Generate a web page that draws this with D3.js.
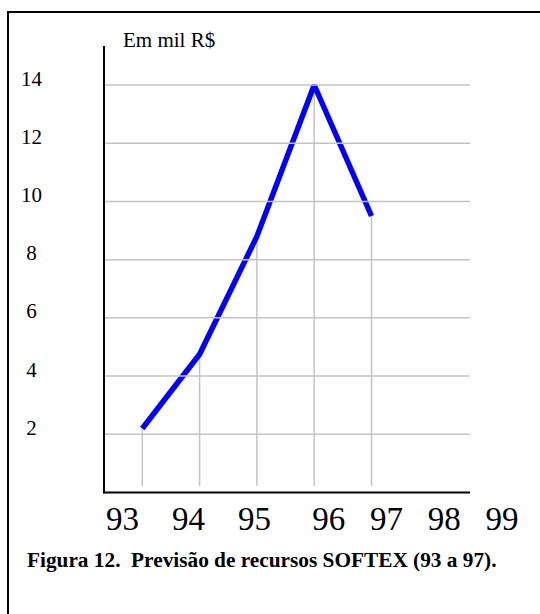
<!DOCTYPE html>
<html>
<head>
<meta charset="utf-8">
<script src="https://cdn.jsdelivr.net/npm/d3@7"></script>
<style>
  html, body { margin: 0; padding: 0; background: #fff; }
  svg { display: block; }
  svg text { font-family: "Liberation Serif", "Times New Roman", Times, serif; }
</style>
</head>
<body>
<svg id="chart" width="540" height="614"></svg>
<script>
// Resources forecast, in thousands of R$
const years = [93, 94, 95, 96, 97];
const recursos = [2.2, 4.75, 8.8, 14, 9.5];
const yTicks = [2, 4, 6, 8, 10, 12, 14];
const yearLabels = ["93", "94", "95", "96", "97", "98", "99"];
const unitLabel = "Em mil R$";
const caption = "Figura 12.  Previsão de recursos SOFTEX (93 a 97).";

const serif = "Liberation Serif, Times New Roman, Times, serif";
const svg = d3.select("#chart");

// frame around the figure (runs off the right and bottom edges)
svg.append("rect")
  .attr("x", 8).attr("y", 12)
  .attr("width", 600).attr("height", 700)
  .attr("fill", "none").attr("stroke", "#000").attr("stroke-width", 2);

const plotLeft = 104, plotRight = 470;

const x = d3.scaleLinear().domain([93, 97]).range([142.3, 371.5]);
const y = d3.scaleLinear().domain([0, 14]).range([492.5, 85]);

const grid = "#c4c4c4";

// drop lines from each point to the base
svg.append("g")
  .selectAll("line")
  .data(years)
  .join("line")
  .attr("x1", d => x(d)).attr("x2", d => x(d))
  .attr("y1", (d, i) => y(recursos[i]))
  .attr("y2", y(0) - 6.5)
  .attr("stroke", grid).attr("stroke-width", 1.5);

// the series
const line = d3.line()
  .x((d, i) => x(years[i]))
  .y(d => y(d));

svg.append("path")
  .datum(recursos)
  .attr("d", line)
  .attr("fill", "none")
  .attr("stroke", "#0000ff")
  .attr("stroke-width", 5.5)
  .attr("stroke-linejoin", "bevel")
  .attr("stroke-linecap", "butt");

// horizontal grid lines
svg.append("g")
  .selectAll("line")
  .data(yTicks)
  .join("line")
  .attr("x1", plotLeft).attr("x2", plotRight)
  .attr("y1", d => y(d)).attr("y2", d => y(d))
  .attr("stroke", grid).attr("stroke-width", 1.5);

// y axis labels
const yAxis = d3.axisLeft(y).tickValues(yTicks).tickSize(0).tickFormat(d3.format("d"));
const gy = svg.append("g")
  .attr("transform", `translate(${plotLeft},0)`)
  .call(yAxis)
  .attr("font-family", serif)
  .attr("font-size", 21);
gy.select(".domain").remove();
gy.selectAll("text")
  .attr("x", 31.5 - plotLeft)
  .attr("dy", 0)
  .attr("text-anchor", "middle")
  .attr("fill", "#000")
  .attr("font-family", serif)
  .attr("font-size", 21);

// axis lines
svg.append("line")
  .attr("x1", plotLeft).attr("x2", plotLeft)
  .attr("y1", 46).attr("y2", y(0) + 1)
  .attr("stroke", "#000").attr("stroke-width", 2);
svg.append("line")
  .attr("x1", plotLeft - 1).attr("x2", plotRight)
  .attr("y1", y(0)).attr("y2", y(0))
  .attr("stroke", "#000").attr("stroke-width", 2);

// unit label
svg.append("text")
  .attr("x", 123).attr("y", 47)
  .attr("font-family", serif)
  .attr("font-size", 21)
  .text(unitLabel);

// year labels: typed as one spaced line of text
const gaps = [4, 4, 5, 3, 3, 3];
const yearText = svg.append("text")
  .attr("x", 106).attr("y", 530)
  .attr("xml:space", "preserve")
  .style("white-space", "pre")
  .attr("font-family", serif)
  .attr("font-size", 33);
yearText.selectAll("tspan")
  .data(yearLabels)
  .join("tspan")
  .text((d, i) => (i === 0 ? "" : " ".repeat(gaps[i - 1])) + d);

// caption
svg.append("text")
  .attr("x", 27).attr("y", 567)
  .attr("xml:space", "preserve")
  .style("white-space", "pre")
  .attr("font-family", serif)
  .attr("font-size", 21.3)
  .attr("font-weight", "bold")
  .text(caption);
</script>
</body>
</html>
